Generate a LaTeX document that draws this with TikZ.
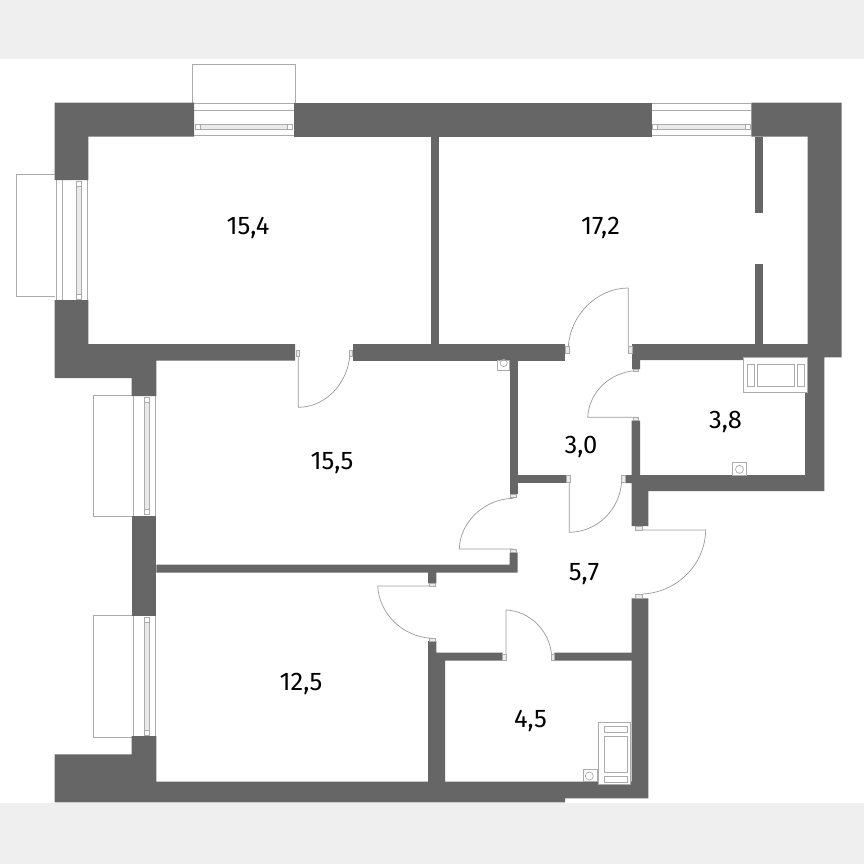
\documentclass[tikz,border=0pt]{standalone}
\usepackage{fontspec}
\setmainfont{Fira Sans}
\tikzset{
  wall/.style={fill=wallc,draw=none},
  thin/.style={draw=linec,line width=0.7pt,fill=none},
  fixture/.style={draw=linec,line width=0.7pt,fill=white},
  leaf/.style={draw=leafc,line width=0.7pt,fill=none},
  jamb/.style={draw=linec,line width=0.5pt,fill=jambc},
  area/.style={font=\fontsize{25.5}{27}\selectfont,text=black,inner sep=0pt}
}
\definecolor{wallc}{HTML}{666666}
\definecolor{linec}{HTML}{ABABAB}
\definecolor{leafc}{HTML}{9A9A9A}
\definecolor{jambc}{HTML}{EAEAEA}
\definecolor{bandc}{HTML}{EFEFEF}
\newcommand{\hwin}[2]{% x0,x1 : horizontal window in top wall
  \draw[thin] (#1,103.5) -- (#2,103.5) (#1,110) -- (#2,110) (#1,135.5) -- (#2,135.5);
  \draw[thin,fill=jambc] (#1+1,124.7) rectangle (#2-1,129.3);
  \draw[thin,fill=white] (#1+1,124.7) rectangle (#1+6,129.3) (#2-6,124.7) rectangle (#2-1,129.3);
}
\newcommand{\vwin}[6]{% y0,y1,x1,x2,x3,x4
  \draw[thin] (#3,#1) -- (#3,#2) (#4,#1) -- (#4,#2) (#6,#1) -- (#6,#2);
  \draw[thin,fill=jambc] (#5,#1+1) rectangle (#5+5.5,#2-1);
  \draw[thin,fill=white] (#5,#1+1) rectangle (#5+5.5,#1+6) (#5,#2-6) rectangle (#5+5.5,#2-1);
}
\begin{document}
\begin{tikzpicture}[x=1pt,y=-1pt]
\useasboundingbox (0,0) rectangle (864,864);
\fill[white] (0,0) rectangle (864,864);
\fill[bandc] (0,0) rectangle (864,59.5);
\fill[bandc] (0,803) rectangle (864,864);
% balconies
\draw[thin] (192,103) -- (192,64.3) -- (295,64.3) -- (295,103);
\draw[thin] (55,174.3) -- (16,174.3) -- (16,296.3) -- (55,296.3);
\draw[thin] (132,395) -- (93.3,395) -- (93.3,516.7) -- (132,516.7);
\draw[thin] (132,615.7) -- (93.3,615.7) -- (93.3,737.3) -- (132,737.3);
% windows
\hwin{194}{293.7}
\hwin{651.7}{751.3}
\vwin{180}{300}{56}{62.3}{76}{87.7}
\vwin{396}{515.7}{133.3}{133.3}{144.3}{155.7}
\vwin{616}{736}{133.3}{133.3}{144.3}{155.7}
% outer walls
\fill[wall] (54.7,102.7) -- (194,102.7) -- (194,136.7) -- (88.3,136.7) -- (88.3,180) -- (54.7,180) -- cycle;
\fill[wall] (293.7,102.7) rectangle (651.7,136.7);
\fill[wall] (751.3,102.7) -- (841.7,102.7) -- (841.7,357.3) -- (824.3,357.3) -- (824.3,491) -- (648.3,491) -- (648.3,526) -- (631.7,526) -- (631.7,483) -- (625,483) -- (625,475) -- (631.7,475) -- (631.7,420.7) -- (640,420.7) -- (640,475) -- (805,475) -- (805,360) -- (640,360) -- (640,369) -- (632,369) -- (632,344) -- (807.7,344) -- (807.7,136.7) -- (751.3,136.7) -- cycle;
\fill[wall] (54.7,300) -- (88.3,300) -- (88.3,344) -- (295,344) -- (295,360.5) -- (156.3,360.5) -- (156.3,396) -- (131.7,396) -- (131.7,378) -- (54.7,378) -- cycle;
\fill[wall] (353.3,344) rectangle (565,360.5);
\fill[wall] (131.7,515.7) rectangle (156.3,616);
\fill[wall] (131.7,736) -- (156.3,736) -- (156.3,781.5) -- (428,781.5) -- (428,641) -- (436.3,641) -- (436.3,652.7) -- (502.7,652.7) -- (502.7,660.7) -- (445,660.7) -- (445,781.5) -- (631.7,781.5) -- (631.7,660.7) -- (554.3,660.7) -- (554.3,652.7) -- (631.7,652.7) -- (631.7,598.3) -- (648.3,598.3) -- (648.3,798.3) -- (565,798.3) -- (565,802.3) -- (54.7,802.3) -- (54.7,754.3) -- (131.7,754.3) -- cycle;
% inner walls
\fill[wall] (431,136.7) rectangle (439,344);
\fill[wall] (754.7,136.7) rectangle (762.7,212.7);
\fill[wall] (754.7,264.3) rectangle (762.7,344);
\fill[wall] (509.7,360) rectangle (517.7,494);
\fill[wall] (517.7,475) rectangle (566.7,482.7);
\fill[wall] (156.3,564.5) -- (509.7,564.5) -- (509.7,552.7) -- (517.7,552.7) -- (517.7,572.7) -- (436.3,572.7) -- (436.3,583.3) -- (428,583.3) -- (428,572.7) -- (156.3,572.7) -- cycle;
% fixtures
\draw[fixture] (497.3,360.5) rectangle (509.7,370);
\draw[thin] (503.7,363) circle (3.6);
\draw[fixture] (743.3,357.7) rectangle (807.7,392.3);
\draw[thin] (747.3,364) rectangle (754.3,386) (757.7,364) rectangle (794,386) (797.7,364) rectangle (804,386);
\draw[fixture] (732.3,462.3) rectangle (746.7,475);
\draw[thin] (739.5,469.3) circle (4);
\draw[fixture] (598.3,722) rectangle (630.7,784.3);
\draw[thin] (604.3,726.3) rectangle (627.7,732.7) (604.3,736.7) rectangle (627.7,772.7) (604.3,776.3) rectangle (627.7,782.3);
\draw[fixture] (583,769.3) rectangle (597,781.5);
\draw[thin] (589.3,776) circle (4);
% doors
\draw[leaf] (298.3,352) -- (298.3,407.3) .. controls (325,407.3) and (348,384) .. (350,354);
\draw[jamb] (296,350) rectangle (299.5,356) (349,350) rectangle (352.5,356);
\draw[leaf] (628.3,346) -- (628.3,288) .. controls (597,288) and (570,315) .. (568.3,347);
\draw[jamb] (565.5,346) rectangle (569,353) (628,346) rectangle (632,353);
\draw[leaf] (636,417.3) -- (587.7,417.3) .. controls (589,392) and (610,372) .. (636,370.7);
\draw[jamb] (633,369) rectangle (638,371.5) (633,417.3) rectangle (638,420.7);
\draw[leaf] (569.3,481) -- (569.3,532.3) .. controls (597,532) and (620,510) .. (621.7,481);
\draw[jamb] (566.7,475.5) rectangle (570.3,482) (621.5,475.5) rectangle (625,482);
\draw[leaf] (513.3,549) -- (459.3,549) .. controls (460,522) and (484,499) .. (513.3,498.3);
\draw[jamb] (510.5,494) rectangle (516,497.5) (510.5,549) rectangle (516,552.7);
\draw[leaf] (640,530) -- (705.7,530) .. controls (705,565) and (677,592) .. (643,594);
\draw[jamb] (635.5,526) rectangle (642.5,530) (635.5,594) rectangle (642.5,598.3);
\draw[leaf] (432,586) -- (377.7,586) .. controls (379,613) and (402,637) .. (432,638.3);
\draw[jamb] (429,583.3) rectangle (435,586) (429,638.3) rectangle (435,641);
\draw[leaf] (506,654) -- (506,610) .. controls (530,611) and (550,631) .. (551.7,656);
\draw[jamb] (502.7,654) rectangle (506.5,660) (551.5,654) rectangle (554.3,660);
% labels
\node[area] (a) at (248,227.5) {15,4};
\node[area] (b) at (600.5,227.5) {17,2};
\node[area] (c) at (332,463) {15,5};
\node[area] (d) at (301,684) {12,5};
\node[area] (e) at (581,446.5) {3,0};
\node[area] (f) at (725.5,421.5) {3,8};
\node[area] (g) at (584,574) {5,7};
\node[area] (h) at (530.5,720.5) {4,5};
\end{tikzpicture}
\end{document}
